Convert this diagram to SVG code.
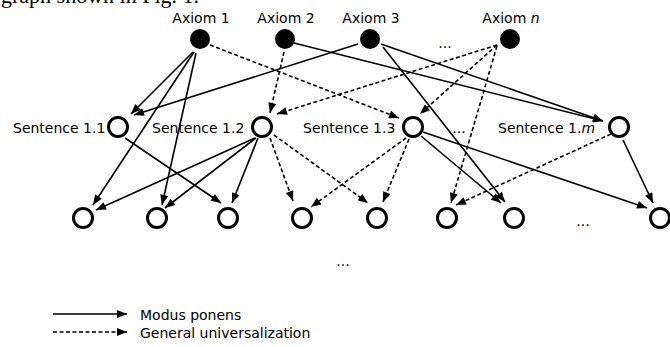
<svg xmlns="http://www.w3.org/2000/svg" width="670" height="347" viewBox="0 0 670 347">
<style>
text{font-family:"DejaVu Sans","Liberation Sans",sans-serif;font-size:14px;fill:#000}
.ax{fill:#000}
.sn{fill:#fff;stroke:#000;stroke-width:3}
.e{fill:none;stroke:#000;stroke-width:1.6;marker-end:url(#ah)}
.d{stroke-dasharray:4 2.5}
.mid{text-anchor:middle}
</style>
<defs>
<marker id="ah" viewBox="0 0 10 8" refX="10" refY="4" markerWidth="11" markerHeight="8" markerUnits="userSpaceOnUse" orient="auto">
<path d="M0,0 L10,4 L0,8 Z" fill="#000"/>
</marker>
</defs>
<text x="1" y="2.5" style="font-family:'Liberation Serif',serif;font-size:22px">graph shown in Fig. 1.</text>
<g id="connectors">
<path class="e" d="M193,52 L131,114"/>
<path class="e" d="M194,52 L93,205"/>
<path class="e" d="M196,53 L162,205"/>
<path class="e d" d="M210,45 L399,118"/>
<path class="e d" d="M284,52 L270,113"/>
<path class="e" d="M294,43 L603,121"/>
<path class="e" d="M358,44 L134,115"/>
<path class="e" d="M381,44 L603,121"/>
<path class="e" d="M383,47 L505,202"/>
<path class="e d" d="M497,45 L277,114"/>
<path class="e d" d="M497,45 L420,114"/>
<path class="e d" d="M497,46 L451,203"/>
<path class="e" d="M125,138 L221,203"/>
<path class="e" d="M255,138 L96,210"/>
<path class="e" d="M256,138 L165,208"/>
<path class="e" d="M258,138 L232,203"/>
<path class="e d" d="M270,138 L293,201"/>
<path class="e d" d="M274,135 L368,203"/>
<path class="e d" d="M406,138 L311,207"/>
<path class="e d" d="M409,139 L383,202"/>
<path class="e" d="M421,136 L501,203"/>
<path class="e" d="M423,132 L647,208"/>
<path class="e d" d="M611,134 L456,205"/>
<path class="e" d="M623,140 L653,203"/>
<path class="e" d="M53,314 L127,314"/>
<path class="e d" d="M53,332 L127,332"/>
</g>
<g id="axiom1"><circle class="ax" cx="200" cy="39" r="10"/><text class="mid" x="201" y="23">Axiom 1</text></g>
<g id="axiom2"><circle class="ax" cx="285" cy="39" r="10"/><text class="mid" x="286" y="23">Axiom 2</text></g>
<g id="axiom3"><circle class="ax" cx="370" cy="39" r="10"/><text class="mid" x="371" y="23">Axiom 3</text></g>
<g id="axiomn"><circle class="ax" cx="510" cy="39" r="10"/><text class="mid" x="511" y="23">Axiom <tspan font-style="italic">n</tspan></text></g>
<g id="dots-top"><text class="mid" x="445" y="48">...</text></g>
<g id="s11"><circle class="sn" cx="118" cy="127" r="9.5"/><text x="13" y="133">Sentence 1.1</text></g>
<g id="s12"><circle class="sn" cx="262" cy="127" r="9.5"/><text x="152" y="133">Sentence 1.2</text></g>
<g id="s13"><circle class="sn" cx="413" cy="127" r="9.5"/><text x="303" y="133">Sentence 1.3</text></g>
<g id="dots-mid"><text class="mid" x="459" y="133">...</text></g>
<g id="s1m"><circle class="sn" cx="619" cy="127" r="9.5"/><text x="498" y="133">Sentence 1.<tspan font-style="italic">m</tspan></text></g>
<g id="b1"><circle class="sn" cx="83" cy="218" r="9.5"/></g>
<g id="b2"><circle class="sn" cx="157" cy="218" r="9.5"/></g>
<g id="b3"><circle class="sn" cx="228" cy="218" r="9.5"/></g>
<g id="b4"><circle class="sn" cx="302" cy="218" r="9.5"/></g>
<g id="b5"><circle class="sn" cx="377" cy="218" r="9.5"/></g>
<g id="b6"><circle class="sn" cx="447" cy="218" r="9.5"/></g>
<g id="b7"><circle class="sn" cx="514" cy="218" r="9.5"/></g>
<g id="dots-bot"><text class="mid" x="583" y="226">...</text></g>
<g id="b8"><circle class="sn" cx="660" cy="218" r="9.5"/></g>
<g id="dots-low"><text class="mid" x="343" y="266">...</text></g>
<g id="legend">
<text x="140" y="320">Modus ponens</text>
<text x="140" y="338">General universalization</text>
</g>
</svg>
